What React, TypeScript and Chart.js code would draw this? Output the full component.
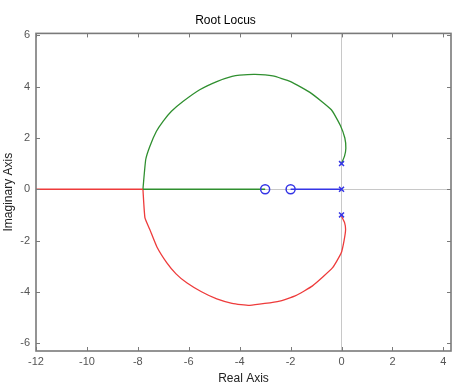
import React, { useEffect, useRef } from 'react';
import { Chart, registerables } from 'chart.js';

Chart.register(...registerables);

// Axis setup
const xTicks = [-12, -10, -8, -6, -4, -2, 0, 2, 4];
const yTicks = [-6, -4, -2, 0, 2, 4, 6];
const xMin = -12;
const xMax = 4.3;
const yMin = -6.31;
const yMax = 6.08;

// Root locus branches
const upperX = [0, 0.12, 0.17, 0.13, -0.05, -0.4, -1.2, -2.0, -2.7, -3.4, -4.0, -4.3, -4.9, -5.57, -6.23, -6.68, -7.01, -7.27, -7.53, -7.69, -7.8];
const upperY = [1.0, 1.3, 1.6, 2.0, 2.5, 3.1, 3.75, 4.2, 4.42, 4.48, 4.45, 4.4, 4.2, 3.88, 3.42, 3.04, 2.65, 2.26, 1.67, 1.16, 0];
const lowerX = [0, 0.12, 0.16, 0.1, -0.01, -0.35, -1.14, -1.8, -2.43, -3.6, -4.3, -4.9, -5.5, -6.08, -6.5, -6.86, -7.25, -7.53, -7.72, -7.8];
const lowerY = [-1.05, -1.3, -1.57, -2.0, -2.48, -3.06, -3.77, -4.15, -4.36, -4.53, -4.45, -4.28, -4.0, -3.65, -3.3, -2.87, -2.25, -1.57, -1.12, 0];
const greenRealX = [-7.8, -3];
const redRealX = [-7.8, -12];
const blueRealX = [0, -2];

// Poles and zeros
const polesRe = [0, 0, 0];
const polesIm = [1, 0, -1];
const zerosRe = [-3, -2];
const zerosIm = [0, 0];

const GREEN = '#2f8f2f';
const RED = '#ee3b3b';
const BLUE = '#3535e6';
const FONT = 'Liberation Sans, Arial, sans-serif';

const pts = (xs: number[], ys: number[]) => xs.map((x, i) => ({ x, y: ys[i] }));
const realPts = (xs: number[]) => xs.map((x) => ({ x, y: 0 }));

const framePlugin = {
  id: 'frame',
  afterDatasetsDraw(chart: any) {
    const { ctx, chartArea } = chart;
    const { left, right, top, bottom } = chartArea;
    const xs = chart.scales.x;
    const ys = chart.scales.y;
    ctx.save();
    ctx.strokeStyle = '#7a7a7a';
    ctx.lineWidth = 1;
    const L = 4;
    ctx.beginPath();
    xTicks.forEach((v) => {
      const px = Math.round(xs.getPixelForValue(v)) + 0.5;
      ctx.moveTo(px, bottom);
      ctx.lineTo(px, bottom - L);
      ctx.moveTo(px, top);
      ctx.lineTo(px, top + L);
    });
    yTicks.forEach((v) => {
      const py = Math.round(ys.getPixelForValue(v)) + 0.5;
      ctx.moveTo(left, py);
      ctx.lineTo(left + L, py);
      ctx.moveTo(right, py);
      ctx.lineTo(right - L, py);
    });
    ctx.stroke();
    ctx.lineWidth = 1.6;
    ctx.strokeRect(left, top, right - left, bottom - top);
    ctx.restore();
  },
};

export default function App() {
  const ref = useRef<HTMLCanvasElement | null>(null);

  useEffect(() => {
    if (!ref.current) return;
    const lineDs = (data: any[], color: string, tension = 0) => ({
      type: 'scatter' as const,
      data,
      showLine: true,
      borderColor: color,
      backgroundColor: color,
      borderWidth: 1.3,
      pointRadius: 0,
      fill: false,
      tension,
    });
    const chart = new Chart(ref.current, {
      type: 'scatter',
      data: {
        datasets: [
          {
            data: pts(polesRe, polesIm),
            pointStyle: 'crossRot',
            pointRadius: 3.5,
            borderColor: BLUE,
            backgroundColor: BLUE,
            borderWidth: 1.5,
            showLine: false,
          } as any,
          {
            data: pts(zerosRe, zerosIm),
            pointStyle: 'circle',
            pointRadius: 4.5,
            borderColor: BLUE,
            backgroundColor: 'rgba(0,0,0,0)',
            borderWidth: 1.5,
            showLine: false,
          } as any,
          lineDs(realPts(blueRealX), BLUE),
          lineDs(realPts(greenRealX), GREEN),
          lineDs(realPts(redRealX), RED),
          lineDs(pts(upperX, upperY), GREEN, 0.15),
          lineDs(pts(lowerX, lowerY), RED, 0.15),
        ],
      },
      options: {
        animation: false,
        responsive: false,
        layout: { padding: { left: 0, right: 23, top: 0, bottom: 0 } },
        plugins: {
          legend: { display: false },
          tooltip: { enabled: false },
          title: {
            display: true,
            text: 'Root Locus',
            color: '#000',
            font: { family: FONT, size: 12, weight: 'normal' },
            padding: { top: 13, bottom: 6 },
          },
        },
        scales: {
          x: {
            type: 'linear',
            min: xMin,
            max: xMax,
            afterBuildTicks: (s: any) => {
              s.ticks = xTicks.map((v) => ({ value: v }));
            },
            afterFit: (s: any) => {
              s.height = 36;
            },
            ticks: {
              color: '#555',
              font: { family: FONT, size: 11 },
              padding: 4,
              maxRotation: 0,
              autoSkip: false,
              callback: (v: any) => String(v),
            },
            grid: {
              drawTicks: false,
              color: (c: any) => (c.tick && c.tick.value === 0 ? '#c8c8c8' : 'rgba(0,0,0,0)'),
            },
            border: { display: false },
            title: {
              display: true,
              text: 'Real Axis',
              color: '#222',
              font: { family: FONT, size: 12 },
              padding: { top: 0, bottom: 1 },
            },
          },
          y: {
            type: 'linear',
            min: yMin,
            max: yMax,
            afterBuildTicks: (s: any) => {
              s.ticks = yTicks.map((v) => ({ value: v }));
            },
            afterFit: (s: any) => {
              s.width = 36;
            },
            ticks: {
              color: '#555',
              font: { family: FONT, size: 11 },
              padding: 6,
              autoSkip: false,
              callback: (v: any) => String(v),
            },
            grid: {
              drawTicks: false,
              color: (c: any) => (c.tick && c.tick.value === 0 ? '#c8c8c8' : 'rgba(0,0,0,0)'),
            },
            border: { display: false },
            title: {
              display: true,
              text: 'Imaginary Axis',
              color: '#222',
              font: { family: FONT, size: 12 },
              padding: { top: 1, bottom: 0 },
            },
          },
        },
      } as any,
      plugins: [framePlugin],
    });
    return () => chart.destroy();
  }, []);

  return (
    <div style={{ position: 'absolute', left: 0, top: 0, width: 474, height: 387, background: '#fff' }}>
      <canvas ref={ref} width={474} height={387} style={{ display: 'block' }} />
    </div>
  );
}
